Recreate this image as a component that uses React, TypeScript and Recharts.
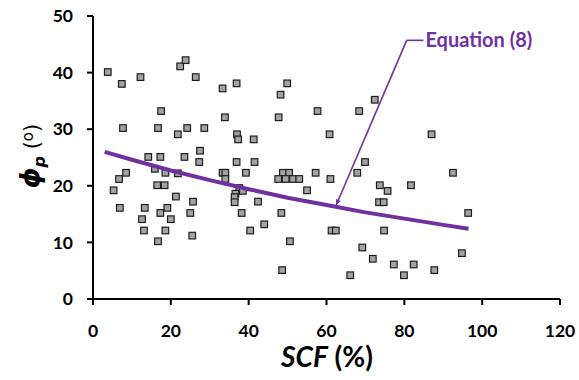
import React from "react"
import {
  ScatterChart,
  Scatter,
  XAxis,
  YAxis,
  ReferenceLine,
  ReferenceDot
} from "recharts"

// measured points (SCF %, phi_p deg)
const scfValues = [
  3.8, 7.4, 12.2, 22.4, 23.8, 26.4, 33.3, 36.9, 48.2, 49.9,
  17.5, 33.9, 47.7, 57.7, 68.4, 72.4, 7.7, 16.7, 21.8, 24.2,
  28.6, 37.0, 37.3, 41.3, 60.8, 87.0, 27.5, 14.2, 17.3, 23.5,
  27.3, 36.9, 41.5, 69.9, 15.9, 8.5, 18.6, 21.8, 33.3, 34.0,
  39.3, 48.8, 50.4, 57.2, 67.9, 92.5, 6.7, 34.0, 47.6, 49.5,
  51.4, 53.0, 61.0, 5.3, 16.5, 18.4, 73.7, 81.7, 37.6, 38.5,
  55.0, 75.7, 21.3, 36.6, 36.4, 25.7, 36.4, 42.4, 73.5, 74.7,
  6.9, 13.3, 19.1, 17.3, 25.0, 38.2, 48.4, 96.4, 12.6, 20.0,
  44.0, 13.1, 18.6, 40.4, 61.3, 62.4, 74.8, 25.5, 16.7, 50.6,
  69.2, 71.9, 77.3, 82.4, 94.8, 48.6, 66.1, 79.9, 87.7
]
const phiValues = [
  40.1, 38.0, 39.2, 41.1, 42.2, 39.2, 37.2, 38.1, 36.1, 38.1,
  33.2, 32.1, 32.1, 33.2, 33.2, 35.2, 30.2, 30.2, 29.1, 30.2,
  30.2, 29.1, 28.2, 28.2, 29.1, 29.1, 26.2, 25.1, 25.1, 25.1,
  24.2, 24.2, 24.2, 24.2, 23.0, 22.3, 22.3, 22.2, 22.3, 22.3,
  22.3, 22.3, 22.3, 22.3, 22.3, 22.3, 21.2, 21.2, 21.2, 21.2,
  21.2, 21.2, 21.2, 19.2, 20.1, 20.1, 20.1, 20.1, 19.6, 19.1,
  19.2, 19.1, 18.1, 18.6, 18.0, 17.2, 17.1, 17.2, 17.1, 17.1,
  16.1, 16.1, 16.1, 15.2, 15.2, 15.2, 15.2, 15.2, 14.1, 14.1,
  13.2, 12.1, 12.1, 12.1, 12.1, 12.1, 12.1, 11.2, 10.2, 10.2,
  9.1, 7.1, 6.1, 6.1, 8.1, 5.1, 4.2, 4.2, 5.1
]

// Equation (8) curve
const curveX = [3, 10, 20, 30, 40, 50, 60, 70, 80, 90, 96.5]
const curveY = [26.0, 24.6, 22.7, 21.0, 19.4, 17.9, 16.6, 15.3, 14.2, 13.1, 12.4]

const xTicks = [0, 20, 40, 60, 80, 100, 120]
const yTicks = [0, 10, 20, 30, 40, 50]

// annotation anchors (data units)
const arrowTip = { x: 62.5, y: 16.6 }
const arrowKnee = { x: 80.6, y: 45.7 }
const arrowEnd = { x: 84.9, y: 45.7 }

const points = scfValues.map((x, i) => ({ x, y: phiValues[i] }))
const curve = curveX.map((x, i) => ({ x, y: curveY[i] }))

const PURPLE = "#7030a0"
const tickStyle = { fontFamily: "Lato", fontWeight: 700, fontSize: 17.5, fill: "#000" }

const SquareDot = (props: any) => {
  const { cx, cy } = props
  if (cx == null || cy == null) return null
  return (
    <rect x={cx - 3.3} y={cy - 3.3} width={6.6} height={6.6}
      fill="#a3a3a3" stroke="#1e1e1e" strokeWidth={1.2} />
  )
}

const ArrowLine = (props: any) => {
  const { x1, y1, x2, y2 } = props
  if (x1 == null) return null
  const ang = Math.atan2(y1 - y2, x1 - x2)
  const len = 6
  const spread = 0.45
  const p1 = `${x1},${y1}`
  const p2 = `${x1 - len * Math.cos(ang - spread)},${y1 - len * Math.sin(ang - spread)}`
  const p3 = `${x1 - len * Math.cos(ang + spread)},${y1 - len * Math.sin(ang + spread)}`
  return (
    <g>
      <line x1={x1} y1={y1} x2={x2} y2={y2} stroke={PURPLE} strokeWidth={1.6} />
      <polygon points={`${p1} ${p2} ${p3}`} fill={PURPLE} />
    </g>
  )
}

export default function App() {
  return (
    <div style={{ position: "absolute", left: 0, top: 0, background: "#fff" }}>
      <ScatterChart width={579} height={380}
        margin={{ top: 16, right: 19, left: 0, bottom: 0 }}>
        <XAxis type="number" dataKey="x" domain={[0, 120]} ticks={xTicks}
          height={81} tickSize={6} tickMargin={20}
          stroke="#000" strokeWidth={2} tick={tickStyle}
          tickLine={{ stroke: "#000", strokeWidth: 2 }} />
        <YAxis type="number" dataKey="y" domain={[0, 50]} ticks={yTicks}
          width={93} tickSize={6} tickMargin={14}
          stroke="#000" strokeWidth={2} tick={tickStyle}
          tickLine={{ stroke: "#000", strokeWidth: 2 }} />

        <Scatter data={points} shape={SquareDot} isAnimationActive={false} />
        <Scatter data={curve} line={{ stroke: PURPLE, strokeWidth: 4 }}
          lineType="joint" shape={() => null} isAnimationActive={false} />

        <ReferenceLine segment={[arrowTip, arrowKnee]} shape={ArrowLine} ifOverflow="visible" />
        <ReferenceLine segment={[arrowKnee, arrowEnd]} stroke={PURPLE}
          strokeWidth={1.6} ifOverflow="visible" />
        <ReferenceDot x={arrowEnd.x} y={arrowEnd.y} r={0} ifOverflow="visible"
          label={{
            value: "Equation (8)", position: "right", offset: 2,
            fill: PURPLE, fontFamily: "Lato", fontWeight: 700, fontSize: 20
          }} />
      </ScatterChart>

      <svg width={579} height={380} style={{ position: "absolute", left: 0, top: 0, pointerEvents: "none" }}>
        <text x={327} y={367} textAnchor="middle" fontFamily="Lato" fontWeight={700}
          fontSize={28} fill="#000">
          <tspan fontStyle="italic">SCF</tspan> (%)
        </text>
        <text transform="translate(39,156) rotate(-90)" textAnchor="middle"
          fontFamily="DejaVu Sans" fill="#000" fontSize={26}>
          <tspan fontStyle="italic" fontWeight={700}>ϕ</tspan>
          <tspan fontStyle="italic" fontWeight={700} fontSize={16} dy={6}>p</tspan>
          <tspan dy={-6} fontSize={21}> (</tspan>
          <tspan fontSize={15} dy={-6}>o</tspan>
          <tspan fontSize={21} dy={6}>)</tspan>
        </text>
      </svg>
    </div>
  )
}
